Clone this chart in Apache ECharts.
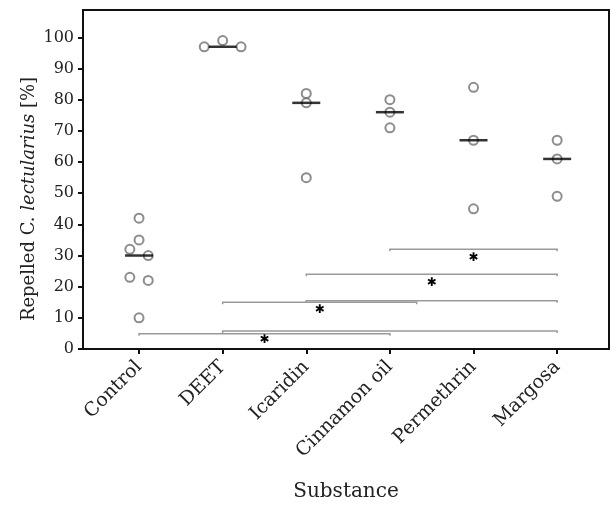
<!DOCTYPE html>
<html>
<head>
<meta charset="utf-8">
<script src="https://cdn.jsdelivr.net/npm/echarts@6/dist/echarts.min.js"></script>
<style>
  html, body { margin: 0; padding: 0; background: #fff; }
  #chart { width: 616px; height: 508px; }
</style>
</head>
<body>
<div id="chart"></div>
<script>
// categories + values
const categories = ['Control', 'DEET', 'Icaridin', 'Cinnamon oil', 'Permethrin', 'Margosa'];
const controlValues = [42, 35, 32, 30, 23, 22, 10];
const deetValues = [97, 99, 97];
const icaridinValues = [82, 79, 55];
const cinnamonValues = [80, 76, 71];
const permethrinValues = [84, 67, 45];
const margosaValues = [67, 61, 49];
const medians = [30, 97, 79, 76, 67, 61];
const yTicks = [0, 10, 20, 30, 40, 50, 60, 70, 80, 90, 100];

// significance brackets (from, to, level) and asterisks
const bracketFrom = [0, 1, 1, 2, 2, 3];
const bracketTo = [3, 5, 3.32, 5, 5, 5];
const bracketLevel = [4.9, 5.8, 15, 15.5, 24, 32];
const starX = [1.5, 2.16, 3.5, 4];
const starY = [2.9, 12.5, 21.1, 29.4];

// horizontal spread of the dots inside a group (layout only)
const spread = [
  [0, 0, -0.11, 0.11, -0.11, 0.11, 0],
  [-0.22, 0, 0.22],
  [0, 0, 0],
  [0, 0, 0],
  [0, 0, 0],
  [0, 0, 0]
];

const groups = [controlValues, deetValues, icaridinValues, cinnamonValues, permethrinValues, margosaValues];
const points = [];
groups.forEach(function (vals, i) {
  vals.forEach(function (v, j) {
    points.push([i + spread[i][j], v]);
  });
});
const medianData = medians.map(function (v, i) { return [i, v]; });
const bracketData = bracketFrom.map(function (f, i) { return [f, bracketTo[i], bracketLevel[i]]; });
const starData = starX.map(function (x, i) { return [x, starY[i]]; });

const serif = 'DejaVu Serif';
const chart = echarts.init(document.getElementById('chart'));

const option = {
  animation: false,
  grid: {
    left: 83, right: 7, top: 10, bottom: 159,
    show: true, borderColor: '#111', borderWidth: 2
  },
  xAxis: {
    type: 'value',
    min: -0.67,
    max: 5.62,
    axisLine: { show: true, onZero: false, lineStyle: { color: '#111', width: 2 } },
    axisTick: { show: true, customValues: [0, 1, 2, 3, 4, 5], length: 5, lineStyle: { color: '#111', width: 2 } },
    axisLabel: {
      customValues: [0, 1, 2, 3, 4, 5],
      formatter: function (v) { return categories[Math.round(v)]; },
      rotate: 45,
      margin: 15,
      fontFamily: serif,
      fontSize: 19,
      color: '#222'
    },
    splitLine: { show: false }
  },
  yAxis: {
    type: 'value',
    min: 0,
    max: 108.8,
    axisLine: { show: true, onZero: false, lineStyle: { color: '#111', width: 2 } },
    axisTick: { show: true, customValues: yTicks, length: 5, lineStyle: { color: '#111', width: 2 } },
    axisLabel: {
      customValues: yTicks,
      margin: 9,
      fontFamily: serif,
      fontSize: 16,
      color: '#222'
    },
    splitLine: { show: false }
  },
  graphic: [
    {
      type: 'text',
      x: 29, y: 199,
      rotation: Math.PI / 2,
      style: {
        text: '{n|Repelled C. }{i|lectularius}{n| [%]}',
        align: 'center',
        verticalAlign: 'middle',
        rich: {
          n: { fontFamily: serif, fontSize: 18, fill: '#222' },
          i: { fontFamily: serif, fontSize: 18, fontStyle: 'italic', fill: '#222' }
        }
      }
    },
    {
      type: 'text',
      x: 346, y: 492,
      style: {
        text: 'Substance',
        align: 'center',
        verticalAlign: 'middle',
        fontFamily: serif,
        fontSize: 20,
        fill: '#222'
      }
    }
  ],
  series: [
    {
      type: 'custom',
      name: 'brackets',
      data: bracketData,
      encode: { x: [0, 1], y: 2 },
      silent: true,
      z: 2,
      renderItem: function (params, api) {
        const a = api.coord([api.value(0), api.value(2)]);
        const b = api.coord([api.value(1), api.value(2)]);
        return {
          type: 'polyline',
          shape: { points: [[a[0], a[1] + 2], a, b, [b[0], b[1] + 2]] },
          style: { stroke: '#9a9a9a', lineWidth: 1.5, fill: null }
        };
      }
    },
    {
      type: 'custom',
      name: 'stars',
      data: starData,
      silent: true,
      z: 3,
      renderItem: function (params, api) {
        const p = api.coord([api.value(0), api.value(1)]);
        return {
          type: 'text',
          x: p[0], y: p[1],
          style: {
            text: '\u2731',
            font: '12px "DejaVu Sans"',
            align: 'center',
            verticalAlign: 'middle',
            fill: '#000'
          }
        };
      }
    },
    {
      type: 'scatter',
      name: 'points',
      data: points,
      symbol: 'circle',
      symbolSize: 9,
      silent: true,
      z: 4,
      itemStyle: { color: 'rgba(255,255,255,0)', borderColor: '#707070', borderWidth: 2 }
    },
    {
      type: 'scatter',
      name: 'median',
      data: medianData,
      symbol: 'rect',
      symbolSize: [28, 2.5],
      silent: true,
      z: 5,
      itemStyle: { color: '#000' }
    }
  ]
};

chart.setOption(option);
</script>
</body>
</html>
